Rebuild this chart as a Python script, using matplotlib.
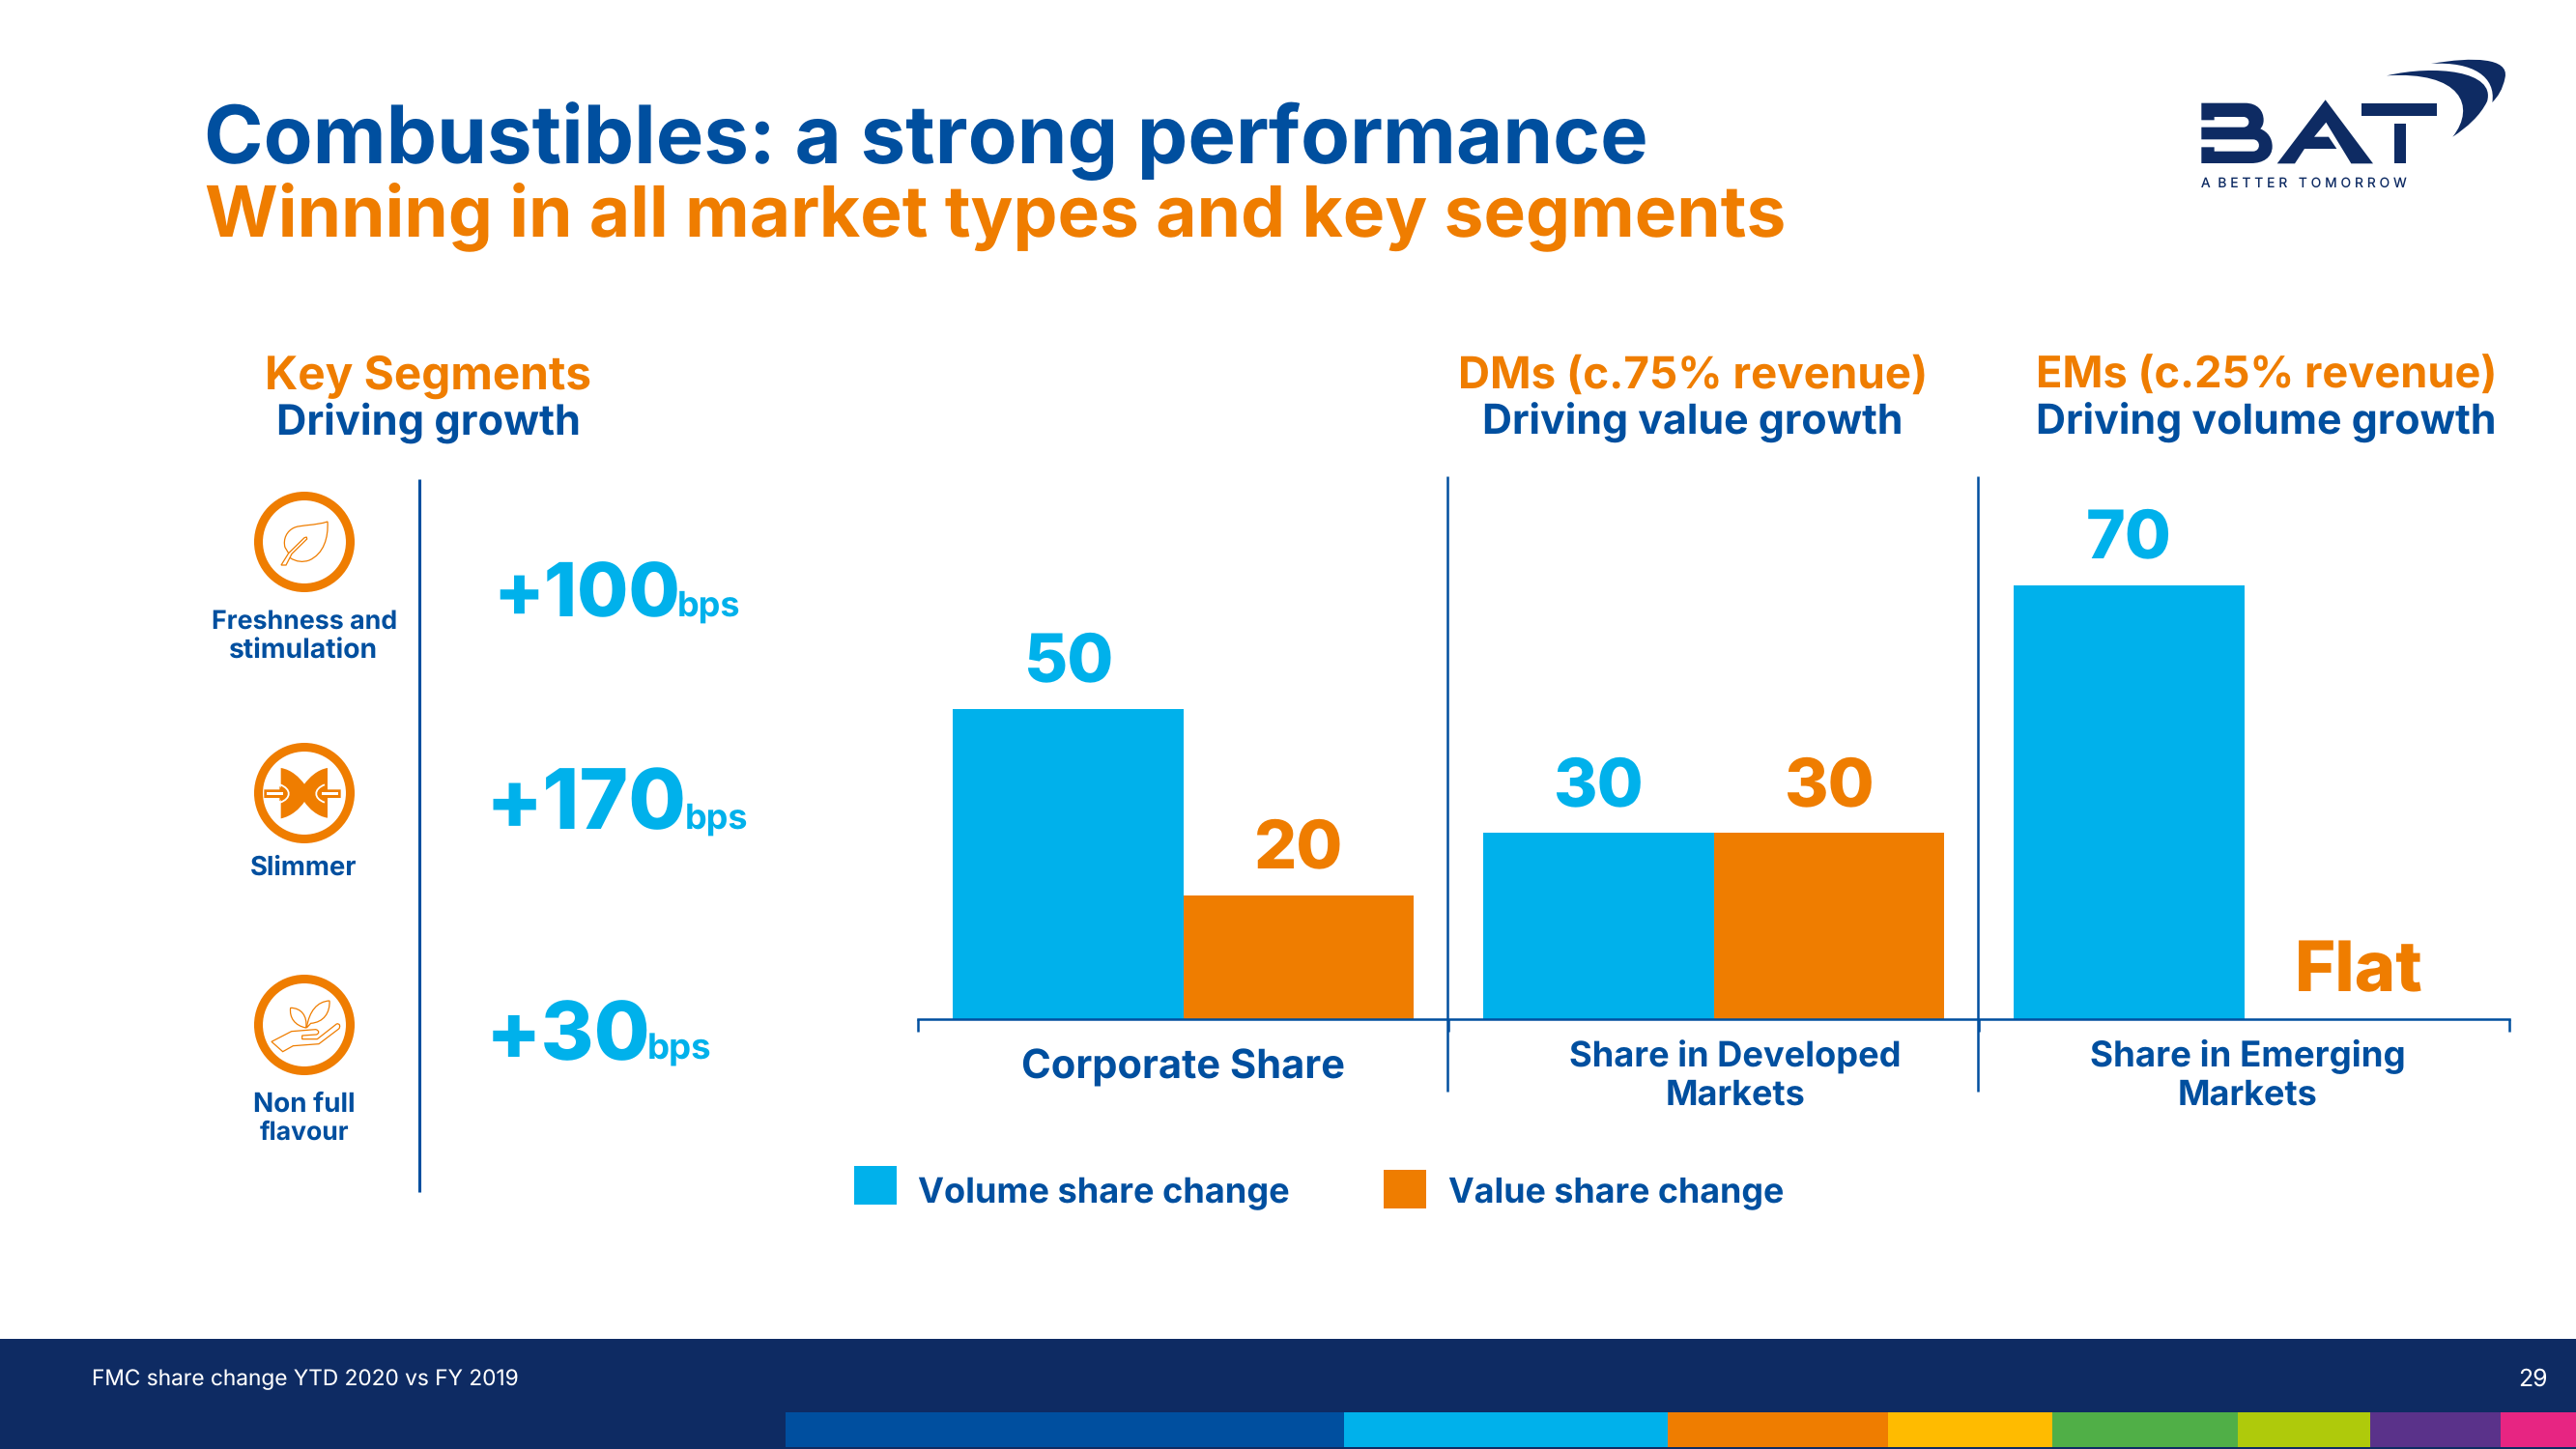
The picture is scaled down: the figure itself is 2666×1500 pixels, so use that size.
import matplotlib
matplotlib.use("Agg")
import matplotlib.pyplot as plt
from matplotlib.font_manager import FontProperties
from matplotlib.patches import Circle, PathPatch, Polygon, Rectangle
from matplotlib.path import Path
from matplotlib.textpath import TextPath
import numpy as np

plt.rcParams["text.hinting"] = "no_hinting"
plt.rcParams["text.hinting_factor"] = 1

# ---- data ----
categories = ["Corporate Share", "Share in Developed\nMarkets", "Share in Emerging\nMarkets"]
volume_share = [50, 30, 70]
value_share = [20, 30, 0]
volume_labels = ["50", "30", "70"]
value_labels = ["20", "30", "Flat"]
series_names = ["Volume share change", "Value share change"]
segments = ["Freshness and\nstimulation", "Slimmer", "Non full\nflavour"]
segment_bps = ["+100", "+170", "+30"]

NAVY = "#0E2B63"; BLUE = "#004F9F"; CYAN = "#00B1EB"; ORANGE = "#EF7D00"
FONT = "Inter"
S = 2666 / 1568  # reference view -> full pixels

fig = plt.figure(figsize=(26.66, 15), dpi=100, facecolor="white")
bg = fig.add_axes([0, 0, 1, 1]); bg.set_xlim(0, 2666); bg.set_ylim(1500, 0); bg.axis("off")


def fit(s, x0, x1, base, color, weight="bold"):
    """Real text sized so that it spans x0..x1 in full pixels."""
    fp = FontProperties(family=FONT, weight=weight, size=100)
    ext = TextPath((0, 0), s, prop=fp).get_extents()
    size = 72 * (x1 - x0) / ext.width
    bg.text(x0 - ext.x0 * size / 72, base, s, family=FONT, weight=weight,
            fontsize=size, color=color, ha="left", va="baseline")


def fv(s, x0, x1, base, color, weight="bold"):
    fit(s, x0 * S, x1 * S, base * S + 1, color, weight)


# ---- headings ----
fit("Combustibles: a strong performance", 215, 1703, 169, BLUE)
fit("Winning in all market types and key segments", 214, 1846, 244, ORANGE)
fv("Key Segments", 163, 359, 236, ORANGE); fv("Driving growth", 170, 352, 264, BLUE)
fv("DMs (c.75% revenue)", 889, 1171, 236, ORANGE); fv("Driving value growth", 904, 1157, 264, BLUE)
fv("EMs (c.25% revenue)", 1241, 1518, 236, ORANGE); fv("Driving volume growth", 1241, 1518, 264, BLUE)

# ---- left panel ----
bg.plot([434, 434], [496, 1234], color=BLUE, lw=2.2, solid_capstyle="butt")
seg_x = [[(130, 241), (140, 229)], [(153, 217)], [(155, 215), (158, 212)]]
seg_base = [[382, 400], [532], [676, 693]]
for name, xs, bs in zip(segments, seg_x, seg_base):
    for line, (a, b), y in zip(name.split("\n"), xs, bs):
        fv(line, a, b, y, BLUE)
bps_x = [(517, 701, 703, 765, 638), (510, 707, 711, 773, 858), (510, 670, 672, 735, 1097)]
for s, (a, b, c, d, y) in zip(segment_bps, bps_x):
    fit(s, a, b, y, CYAN, 800)
    fit("bps", c, d, y, CYAN)

centres = [(315, 561), (315, 821), (315, 1061)]
for c in centres:
    bg.add_patch(Circle(c, 47.5, fc="white", ec=ORANGE, lw=6.5))

M, L, C4, Z = Path.MOVETO, Path.LINETO, Path.CURVE4, Path.CLOSEPOLY


def build(spec, tf):
    verts, codes = [], []
    for op, *pts in spec:
        if op == "M":
            verts.append(tf(*pts[0])); codes.append(M)
        elif op == "L":
            verts.append(tf(*pts[0])); codes.append(L)
        elif op == "C":
            verts += [tf(*p) for p in pts]; codes += [C4] * 3
        else:
            verts.append((0, 0)); codes.append(Z)
    return Path(verts, codes)


def icon(centre, spec, fill=None, ec=ORANGE, lw=0.9):
    cx, cy = centre
    tf = lambda x, y: (cx + (x - 225) / 3, cy + (y - 213) / 3)
    bg.add_patch(PathPatch(build(spec, tf), fc=fill or "none", ec=ec if not fill else "none", lw=lw))


# leaf
icon(centres[0], [("M", (297, 150)), ("C", (260, 162), (215, 160), (195, 168)),
                  ("C", (170, 178), (158, 205), (165, 230)), ("L", (176, 248)),
                  ("L", (225, 200)), ("L", (232, 198)), ("L", (233, 204)), ("L", (186, 250)), ("L", (180, 262)),
                  ("C", (200, 275), (220, 277), (240, 270)), ("C", (285, 250), (300, 200), (297, 150)), ("Z",)])
icon(centres[0], [("M", (176, 248)), ("L", (153, 285)), ("L", (168, 285)), ("L", (180, 262))])
# slimmer
icon(centres[1], [("M", (152, 135)), ("C", (185, 140), (210, 165), (225, 185)),
                  ("C", (240, 165), (265, 140), (297, 135)), ("L", (297, 290)),
                  ("C", (265, 285), (240, 262), (225, 240)), ("C", (210, 262), (185, 285), (152, 292)), ("Z",)],
     fill=ORANGE)
for axis, sign in ((219, 1), (219, -1)):
    mx = lambda x: axis + sign * (x - axis)
    icon(centres[1], [("M", (mx(100), 202)), ("L", (mx(148), 202)), ("L", (mx(148), 192)), ("L", (mx(172), 215)),
                      ("L", (mx(148), 238)), ("L", (mx(148), 228)), ("L", (mx(100), 228)), ("Z",)], fill=ORANGE)
    icon(centres[1], [("M", (mx(108), 210)), ("L", (mx(160), 210)), ("L", (mx(160), 220)), ("L", (mx(108), 220)),
                      ("Z",)], fill="white")
    icon(centres[1], [("M", (mx(150), 187)), ("C", (mx(185), 200), (mx(185), 230), (mx(150), 242))],
         ec="white", lw=1.3)
# plant on a hand
icon(centres[2], [("M", (123, 265)), ("L", (185, 233)), ("L", (260, 227)), ("C", (272, 230), (272, 240), (262, 243)),
                  ("L", (218, 246)), ("L", (218, 257)), ("L", (265, 257)), ("L", (325, 210)),
                  ("C", (335, 207), (338, 218), (332, 225)), ("L", (270, 272)), ("L", (190, 278)),
                  ("L", (158, 296)), ("Z",)])
icon(centres[2], [("M", (230, 222)), ("C", (195, 215), (178, 190), (182, 160)),
                  ("C", (215, 160), (235, 185), (230, 222)), ("Z",)])
icon(centres[2], [("M", (232, 222)), ("C", (240, 170), (265, 140), (303, 138)),
                  ("C", (305, 175), (285, 205), (245, 208)), ("Z",)])

# ---- bar chart ----
left, right, base_y, top_y = 950, 2597, 1055, 455
ax = fig.add_axes([left / 2666, 1 - base_y / 1500, (right - left) / 2666, (base_y - top_y) / 1500])
ax.patch.set_alpha(0)
ax.set_xlim(0, 3)
ax.set_ylim(0, (base_y - top_y) / 6.42)
idx = np.arange(len(categories)) + 0.5
w = 238.5 / 549
ax.bar(idx - w / 2, volume_share, w, color=CYAN, label=series_names[0])
ax.bar(idx + w / 2, value_share, w, color=ORANGE, label=series_names[1])
for sp in ("top", "left", "right"):
    ax.spines[sp].set_visible(False)
ax.spines["bottom"].set_color(BLUE); ax.spines["bottom"].set_linewidth(1.8)
ax.set_xticks([0, 1, 2, 3]); ax.set_xticklabels([])
ax.tick_params(axis="x", length=9, width=1.8, color=BLUE)
ax.set_yticks([])
for x, v, s in zip(idx - w / 2, volume_share, volume_labels):
    ax.annotate(s, (x, v), xytext=(0, 20.5), textcoords="offset points", ha="center", va="baseline",
                family=FONT, weight=800, fontsize=50, color=CYAN)
for x, v, s in zip(idx + w / 2, value_share, value_labels):
    ax.annotate(s, (x, v), xytext=(0, 20.5), textcoords="offset points", ha="center", va="baseline",
                family=FONT, weight=800, fontsize=52 if s == "Flat" else 50, color=ORANGE)
for x in (1498, 2047):
    bg.plot([x, x], [493, 1130], color=BLUE, lw=1.8, solid_capstyle="butt")

cat_x = [[(623, 818)], [(956, 1156), (1015, 1098)], [(1273, 1463), (1327, 1410)]]
cat_base = [[656], [649, 672], [649, 672]]
for name, xs, bs in zip(categories, cat_x, cat_base):
    for line, (a, b), y in zip(name.split("\n"), xs, bs):
        fv(line, a, b, y, BLUE)

# ---- legend ----
bg.add_patch(Rectangle((520 * S, 710 * S), 26 * S, 23.5 * S, fc=CYAN, ec="none"))
bg.add_patch(Rectangle((842 * S, 712 * S), 26 * S, 23.5 * S, fc=ORANGE, ec="none"))
fv(series_names[0], 559, 784, 732, BLUE)
fv(series_names[1], 882, 1085, 731, BLUE)

# ---- footer ----
bg.add_patch(Rectangle((0, 1386), 2666, 114, fc=NAVY, ec="none"))
edges = [478, 818, 1015, 1149, 1249, 1362, 1443, 1522, 1568]
strip = [BLUE, CYAN, ORANGE, "#FFBB00", "#50AF47", "#AFCA0B", "#5A328A", "#E72582"]
for a, b, c in zip(edges, edges[1:], strip):
    bg.add_patch(Rectangle((a * S, 1462), (b - a) * S, 36, fc=c, ec="none"))
fv("FMC share change YTD 2020 vs FY 2019", 57, 315, 843, "white", "normal")
fv("29", 1534, 1550, 843, "white", "normal")

# ---- logo ----
def lg(zx, zy):
    return (2200 + zx / 3, 30 + zy / 3)


def lb(zx, zy):
    return (2270 + zx / 3, 95 + zy / 3)


def shape(spec, tf=lg):
    bg.add_patch(PathPatch(build(spec, tf), fc=NAVY, ec="none"))


shape([("M", (25, 35)), ("L", (160, 35)), ("C", (200, 35), (218, 60), (218, 88)),
       ("C", (218, 100), (214, 108), (208, 115)), ("C", (232, 125), (245, 145), (245, 170)),
       ("C", (245, 205), (215, 222), (180, 222)), ("L", (25, 222)), ("L", (25, 172)), ("L", (65, 172)),
       ("L", (65, 185)), ("L", (185, 185)), ("C", (210, 185), (210, 148), (185, 148)), ("L", (25, 148)),
       ("L", (25, 110)), ("L", (155, 110)), ("C", (178, 110), (178, 78), (155, 78)), ("L", (65, 78)),
       ("L", (65, 88)), ("L", (25, 88)), ("Z",)], lb)
shape([("M", (620, 220)), ("L", (768, 418)), ("L", (700, 418)), ("L", (622, 290)), ("L", (585, 335)), ("L", (630, 335)),
       ("L", (655, 372)), ("L", (555, 372)), ("L", (525, 418)), ("L", (470, 418)), ("Z",)])
shape([("M", (732, 232)), ("L", (966, 232)), ("L", (966, 270)), ("L", (732, 270)), ("Z",)])
shape([("M", (833, 293)), ("L", (870, 293)), ("L", (870, 418)), ("L", (833, 418)), ("Z",)])
shape([("M", (810, 145)), ("C", (960, 110), (1150, 130), (1122, 225)), ("C", (1100, 270), (1060, 305), (1015, 335)),
       ("C", (1090, 240), (1040, 130), (810, 145)), ("Z",)])
shape([("M", (948, 108)), ("C", (1080, 85), (1190, 90), (1178, 150)), ("C", (1170, 190), (1155, 210), (1138, 228)),
       ("C", (1150, 150), (1080, 100), (948, 108)), ("Z",)])
fit("A  B E T T E R   T O M O R R O W", 2278, 2490, 194, NAVY, "normal")

fig.savefig("out.png", dpi=100)
